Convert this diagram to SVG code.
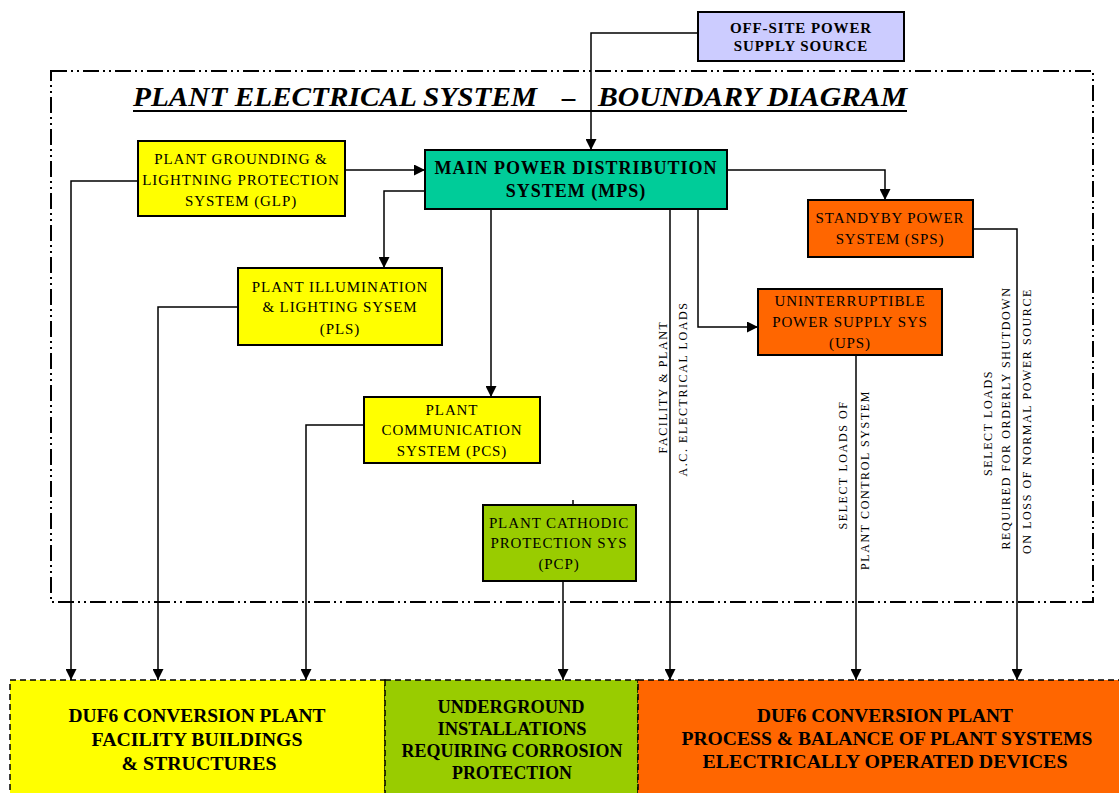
<svg xmlns="http://www.w3.org/2000/svg" width="1119" height="793" viewBox="0 0 1119 793">
<defs>
<marker id="ah" viewBox="0 0 10 10" refX="10" refY="5" markerWidth="11" markerHeight="11" markerUnits="userSpaceOnUse" orient="auto">
<path d="M0,0 L10,5 L0,10 z" fill="#000"/>
</marker>
<style>
.box{stroke:#000;stroke-width:2}
.t{font-family:"Liberation Serif","Times New Roman",serif;font-size:15px;letter-spacing:0.9px;fill:#000;text-anchor:middle}
.tb{font-family:"Liberation Serif","Times New Roman",serif;font-size:18px;font-weight:bold;letter-spacing:1px;fill:#000;text-anchor:middle}
.tbb{font-family:"Liberation Serif","Times New Roman",serif;font-size:18.5px;font-weight:bold;fill:#000;text-anchor:middle}
.tv{font-family:"Liberation Serif","Times New Roman",serif;font-size:12px;letter-spacing:1.6px;fill:#000;text-anchor:middle}
.ti{font-family:"Liberation Serif","Times New Roman",serif;font-size:27px;font-style:italic;font-weight:bold;fill:#000}
.c{fill:none;stroke:#000;stroke-width:1.5}
.a{marker-end:url(#ah)}
.bnd{fill:none;stroke:#000;stroke-width:2;stroke-dasharray:16 4 2 4 2 4}
.bot{stroke:#000;stroke-width:1.5;stroke-dasharray:6 4}
</style>
</defs>
<rect width="1119" height="793" fill="#fff"/>

<rect class="bnd" x="51" y="71" width="1042" height="531"/>

<g id="title">
<text class="ti" x="133" y="106" textLength="404" lengthAdjust="spacingAndGlyphs">PLANT ELECTRICAL SYSTEM</text>
<text class="ti" x="562" y="106">–</text>
<text class="ti" x="598" y="106" textLength="309" lengthAdjust="spacingAndGlyphs">BOUNDARY DIAGRAM</text>
<line x1="133" y1="111" x2="907" y2="111" stroke="#000" stroke-width="2"/>
</g>

<g id="connectors">
<polyline class="c a" points="698,33 591,33 591,150"/>
<polyline class="c a" points="345,170 425,170"/>
<polyline class="c a" points="138,181 71,181 71,680"/>
<polyline class="c a" points="425,191 384,191 384,268"/>
<polyline class="c a" points="238,307 158,307 158,680"/>
<polyline class="c a" points="491,209 491,397"/>
<polyline class="c a" points="364,425 306,425 306,680"/>
<line class="c" x1="573" y1="500" x2="573" y2="505"/>
<polyline class="c a" points="563,581 563,680"/>
<polyline class="c a" points="670,209 670,680"/>
<polyline class="c a" points="698,209 698,327 758,327"/>
<polyline class="c a" points="856,355 856,680"/>
<polyline class="c a" points="727,170 885,170 885,200"/>
<polyline class="c a" points="973,229 1017,229 1017,680"/>
</g>

<g id="labels">
<text class="tv" transform="translate(667,387) rotate(-90)">FACILITY &amp; PLANT</text>
<text class="tv" transform="translate(687,389) rotate(-90)">A.C. ELECTRICAL LOADS</text>
<text class="tv" transform="translate(847,465) rotate(-90)">SELECT LOADS OF</text>
<text class="tv" transform="translate(869,480) rotate(-90)">PLANT CONTROL SYSTEM</text>
<text class="tv" transform="translate(992,423) rotate(-90)">SELECT LOADS</text>
<text class="tv" transform="translate(1010,418) rotate(-90)">REQUIRED FOR ORDERLY SHUTDOWN</text>
<text class="tv" transform="translate(1031,421) rotate(-90)">ON LOSS OF NORMAL POWER SOURCE</text>
</g>

<g id="offsite">
<rect class="box" x="698" y="12" width="206" height="49" fill="#CCCCFF"/>
<text class="t" font-weight="bold" font-size="14" x="801" y="33">OFF-SITE POWER</text>
<text class="t" font-weight="bold" font-size="14" x="801" y="51">SUPPLY SOURCE</text>
</g>

<g id="mps">
<rect class="box" x="425" y="150" width="302" height="59" fill="#00CC99"/>
<text class="tb" x="576" y="174">MAIN POWER DISTRIBUTION</text>
<text class="tb" x="576" y="197">SYSTEM (MPS)</text>
</g>

<g id="glp">
<rect class="box" x="138" y="141" width="207" height="75" fill="#FFFF00"/>
<text class="t" x="241" y="164">PLANT GROUNDING &amp;</text>
<text class="t" x="241" y="185">LIGHTNING PROTECTION</text>
<text class="t" x="241" y="206">SYSTEM (GLP)</text>
</g>

<g id="pls">
<rect class="box" x="238" y="268" width="204" height="77" fill="#FFFF00"/>
<text class="t" x="340" y="292">PLANT ILLUMINATION</text>
<text class="t" x="340" y="312">&amp; LIGHTING SYSEM</text>
<text class="t" x="340" y="334">(PLS)</text>
</g>

<g id="pcs">
<rect class="box" x="364" y="397" width="176" height="66" fill="#FFFF00"/>
<text class="t" x="452" y="415">PLANT</text>
<text class="t" x="452" y="435">COMMUNICATION</text>
<text class="t" x="452" y="456">SYSTEM (PCS)</text>
</g>

<g id="pcp">
<rect class="box" x="483" y="505" width="153" height="76" fill="#99CC00"/>
<text class="t" x="559" y="528">PLANT CATHODIC</text>
<text class="t" x="559" y="548">PROTECTION SYS</text>
<text class="t" x="559" y="569">(PCP)</text>
</g>

<g id="sps">
<rect class="box" x="808" y="200" width="165" height="57" fill="#FF6600"/>
<text class="t" x="890" y="223">STANDYBY POWER</text>
<text class="t" x="890" y="244">SYSTEM (SPS)</text>
</g>

<g id="ups">
<rect class="box" x="758" y="289" width="184" height="66" fill="#FF6600"/>
<text class="t" x="850" y="306">UNINTERRUPTIBLE</text>
<text class="t" x="850" y="327">POWER SUPPLY SYS</text>
<text class="t" x="850" y="348">(UPS)</text>
</g>

<g id="bottom-facility">
<rect class="bot" x="10" y="680" width="375" height="120" fill="#FFFF00"/>
<text class="tbb" x="197" y="722" textLength="257" lengthAdjust="spacingAndGlyphs">DUF6 CONVERSION PLANT</text>
<text class="tbb" x="197" y="746" textLength="211" lengthAdjust="spacingAndGlyphs">FACILITY BUILDINGS</text>
<text class="tbb" x="199" y="770" textLength="155" lengthAdjust="spacingAndGlyphs">&amp; STRUCTURES</text>
</g>

<g id="bottom-underground">
<rect class="bot" x="385" y="680" width="253" height="120" fill="#99CC00"/>
<text class="tbb" x="511" y="713" textLength="147" lengthAdjust="spacingAndGlyphs">UNDERGROUND</text>
<text class="tbb" x="512" y="735" textLength="149" lengthAdjust="spacingAndGlyphs">INSTALLATIONS</text>
<text class="tbb" x="512" y="757" textLength="221" lengthAdjust="spacingAndGlyphs">REQUIRING CORROSION</text>
<text class="tbb" x="512" y="779" textLength="120" lengthAdjust="spacingAndGlyphs">PROTECTION</text>
</g>

<g id="bottom-process">
<rect class="bot" x="638" y="680" width="490" height="120" fill="#FF6600"/>
<text class="tbb" x="885" y="722" textLength="256" lengthAdjust="spacingAndGlyphs">DUF6 CONVERSION PLANT</text>
<text class="tbb" x="887" y="745" textLength="411" lengthAdjust="spacingAndGlyphs">PROCESS &amp; BALANCE OF PLANT SYSTEMS</text>
<text class="tbb" x="885" y="768" textLength="365" lengthAdjust="spacingAndGlyphs">ELECTRICALLY OPERATED DEVICES</text>
</g>
</svg>
